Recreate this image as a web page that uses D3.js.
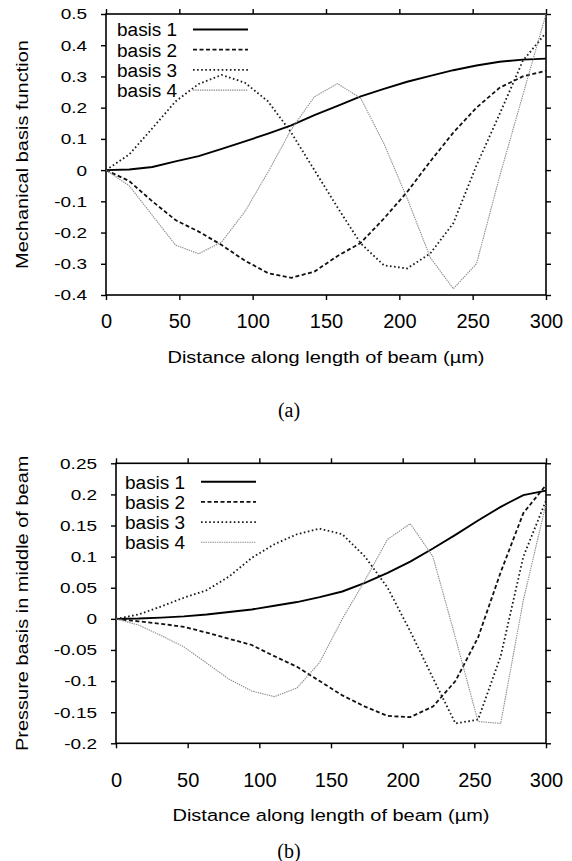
<!DOCTYPE html>
<html lang="en">
<head>
<meta charset="utf-8">
<title>Beam basis functions</title>
<script src="https://d3js.org/d3.v7.min.js"></script>
<style>
  body { margin: 0; background: #fff; }
  svg { display: block; font-family: "Liberation Sans", Arial, Helvetica, sans-serif; }
</style>
</head>
<body>
<div id="chart"></div>
<script>
// Sample positions along the beam (µm)
const distance = [0, 15.8, 31.6, 47.4, 63.2, 78.9, 94.7, 110.5, 126.3, 142.1, 157.9, 173.7, 189.5, 205.3, 221.1, 236.8, 252.6, 268.4, 284.2, 300];
const basisNames = ["basis 1", "basis 2", "basis 3", "basis 4"];

// (a) mechanical basis functions
const mechBasis1 = [0, 0.002, 0.01, 0.028, 0.045, 0.068, 0.092, 0.117, 0.143, 0.176, 0.206, 0.236, 0.26, 0.283, 0.302, 0.32, 0.335, 0.347, 0.354, 0.357];
const mechBasis2 = [0, -0.035, -0.1, -0.16, -0.197, -0.24, -0.29, -0.33, -0.345, -0.325, -0.275, -0.233, -0.155, -0.07, 0.028, 0.12, 0.2, 0.264, 0.3, 0.318];
const mechBasis3 = [0, 0.05, 0.134, 0.22, 0.276, 0.305, 0.28, 0.22, 0.12, 0.0, -0.12, -0.235, -0.305, -0.315, -0.267, -0.17, 0.015, 0.18, 0.35, 0.44];
const mechBasis4 = [0, -0.05, -0.145, -0.24, -0.268, -0.23, -0.133, -0.006, 0.13, 0.235, 0.277, 0.23, 0.085, -0.09, -0.28, -0.38, -0.3, -0.02, 0.24, 0.5];
const mechTicks = [-0.4, -0.3, -0.2, -0.1, 0, 0.1, 0.2, 0.3, 0.4, 0.5];

// (b) pressure basis in middle of beam
const presBasis1 = [0, 0.0005, 0.002, 0.004, 0.007, 0.011, 0.015, 0.021, 0.027, 0.035, 0.044, 0.058, 0.074, 0.092, 0.113, 0.135, 0.158, 0.18, 0.199, 0.206];
const presBasis2 = [0, -0.004, -0.008, -0.013, -0.022, -0.032, -0.042, -0.06, -0.077, -0.1, -0.123, -0.141, -0.156, -0.158, -0.141, -0.1, -0.03, 0.075, 0.17, 0.215];
const presBasis3 = [0, 0.007, 0.02, 0.034, 0.046, 0.068, 0.098, 0.12, 0.136, 0.145, 0.136, 0.1, 0.05, -0.02, -0.095, -0.168, -0.162, -0.06, 0.1, 0.19];
const presBasis4 = [0, -0.01, -0.027, -0.045, -0.071, -0.097, -0.116, -0.125, -0.111, -0.07, 0.0, 0.062, 0.128, 0.153, 0.1, -0.03, -0.165, -0.168, 0.03, 0.185];
const presTicks = [-0.2, -0.15, -0.1, -0.05, 0, 0.05, 0.1, 0.15, 0.2, 0.25];

const distTicks = [0, 50, 100, 150, 200, 250, 300];

// gnuplot-like line types
const lineStyles = [
  { stroke: "#000", width: 1.9, dash: null },
  { stroke: "#111", width: 1.8, dash: "4,2.5" },
  { stroke: "#1a1a1a", width: 1.8, dash: "1.6,2.5" },
  { stroke: "#8c8c8c", width: 1.1, dash: "1.4,0.9" }
];

const svg = d3.select("#chart").append("svg")
  .attr("width", 572)
  .attr("height", 861);

function drawPanel(p) {
  const x = d3.scaleLinear().domain([0, 300]).range([p.left, p.right]);
  const y = d3.scaleLinear().domain(p.yDomain).range([p.bottom, p.top]);
  const g = svg.append("g");

  // Axes on all four sides, ticks pointing out
  const left = g.append("g")
    .attr("transform", `translate(${p.left},0)`)
    .call(d3.axisLeft(y).tickValues(p.yTicks).tickFormat(d => String(d))
      .tickSize(5).tickSizeOuter(0).tickPadding(14));
  left.selectAll(".tick text")
    .attr("dy", "0.34em")
    .attr("transform", "scale(1,0.76)")
    .style("font-size", "19px");

  g.append("g")
    .attr("transform", `translate(${p.right},0)`)
    .call(d3.axisRight(y).tickValues(p.yTicks).tickFormat("").tickSize(5).tickSizeOuter(0));

  const bottom = g.append("g")
    .attr("transform", `translate(0,${p.bottom})`)
    .call(d3.axisBottom(x).tickValues(distTicks).tickSize(5).tickSizeOuter(0));
  bottom.selectAll(".tick text")
    .attr("y", p.labelOffset)
    .attr("dy", 0)
    .style("font-size", "20px");

  g.append("g")
    .attr("transform", `translate(0,${p.top})`)
    .call(d3.axisTop(x).tickValues(distTicks).tickFormat("").tickSize(5).tickSizeOuter(0));

  g.selectAll(".domain").remove();
  g.selectAll(".tick line").attr("stroke", "#000").attr("stroke-width", 1.4);
  g.selectAll(".tick text").attr("fill", "#000");

  g.append("rect")
    .attr("x", p.left).attr("y", p.top)
    .attr("width", p.right - p.left).attr("height", p.bottom - p.top)
    .attr("fill", "none").attr("stroke", "#000").attr("stroke-width", 1.6);

  // Curves
  const line = d3.line()
    .x((d, i) => x(distance[i]))
    .y(d => y(d));

  p.series.forEach((s, k) => {
    const st = lineStyles[k];
    g.append("path")
      .attr("d", line(s))
      .attr("fill", "none")
      .attr("stroke", st.stroke)
      .attr("stroke-width", st.width)
      .attr("stroke-dasharray", st.dash);
  });

  // Legend
  basisNames.forEach((name, k) => {
    const st = lineStyles[k];
    const cy = p.legendY + k * 20.2;
    g.append("text")
      .attr("transform", `translate(${p.legendX},${cy + 6.8}) scale(1,0.92)`)
      .style("font-size", "19px")
      .text(name);
    g.append("line")
      .attr("x1", p.legendX + 76).attr("x2", p.legendX + 131)
      .attr("y1", cy).attr("y2", cy)
      .attr("stroke", st.stroke)
      .attr("stroke-width", st.width)
      .attr("stroke-dasharray", st.dash);
  });

  // Axis titles and caption
  g.append("text")
    .attr("transform", `translate(${(p.left + p.right) / 2},${p.titleBaseline}) scale(1,0.87)`)
    .attr("text-anchor", "middle")
    .style("font-size", "20px")
    .text("Distance along length of beam (\u00b5m)");

  g.append("text")
    .attr("transform", `translate(28,${(p.top + p.bottom) / 2}) rotate(-90) scale(1,0.87)`)
    .attr("text-anchor", "middle")
    .style("font-size", "20px")
    .text(p.yTitle);

  g.append("text")
    .attr("x", 289).attr("y", p.captionBaseline)
    .attr("text-anchor", "middle")
    .style("font-family", "'Liberation Serif', 'Times New Roman', serif")
    .style("font-size", "20px")
    .text(p.caption);
}

drawPanel({
  left: 106, right: 546, top: 14, bottom: 295,
  yDomain: [-0.4, 0.5], yTicks: mechTicks,
  series: [mechBasis1, mechBasis2, mechBasis3, mechBasis4],
  labelOffset: 32.5, titleBaseline: 363, captionBaseline: 417,
  legendX: 117, legendY: 29.5,
  yTitle: "Mechanical basis function", caption: "(a)"
});

drawPanel({
  left: 116, right: 546, top: 463.3, bottom: 743.3,
  yDomain: [-0.2, 0.25], yTicks: presTicks,
  series: [presBasis1, presBasis2, presBasis3, presBasis4],
  labelOffset: 44, titleBaseline: 821, captionBaseline: 858,
  legendX: 125, legendY: 481.7,
  yTitle: "Pressure basis in middle of beam", caption: "(b)"
});
</script>
</body>
</html>
